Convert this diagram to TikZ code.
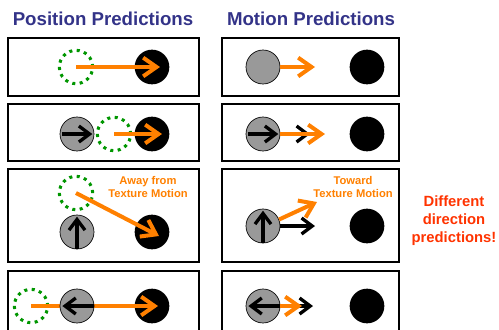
\documentclass[tikz,border=0pt]{standalone}
\usepackage{fontspec}
\setmainfont{Liberation Sans}
\usetikzlibrary{arrows.meta}
\definecolor{ttlblue}{RGB}{51,51,136}
\definecolor{predorange}{RGB}{255,128,0}
\definecolor{predgreen}{RGB}{0,150,0}
\definecolor{notered}{RGB}{255,51,0}
\begin{document}
\begin{tikzpicture}[x=0.75pt,y=-0.75pt,
  every node/.style={font=\bfseries},
  panel/.style={draw=black,line width=1.1pt},
  target/.style={circle,fill=black,inner sep=0pt,minimum size=26pt},
  object/.style={circle,draw=black,line width=0.5pt,fill=black!40,inner sep=0pt,minimum size=25.5pt},
  guess/.style={circle,draw=predgreen,line width=2.3pt,dash pattern=on 2.3pt off 3.3pt,inner sep=0pt,minimum size=25pt},
  oarrow/.style={draw=predorange,line width=3pt,-{Straight Barb[length=10pt,width=14pt]}},
  karrow/.style={draw=black,line width=2.5pt,-{Straight Barb[length=8pt,width=12pt]}},
  ttl/.style={text=ttlblue,font=\bfseries\fontsize{14}{16}\selectfont},
  note/.style={text=predorange,align=center,font=\bfseries\fontsize{8.4}{9.8}\selectfont}]

\clip (0,0) rectangle (499,329);

\node[ttl] (ttlpos) at (103,19) {Position Predictions};
\node[ttl] (ttlmot) at (311,19) {Motion Predictions};

\draw[panel] (8,38) rectangle (199,96);
\draw[panel] (8,104) rectangle (199,161);
\draw[panel] (8,169) rectangle (199,262);
\draw[panel] (8,271) rectangle (199,340);
\draw[panel] (222,38) rectangle (399,96);
\draw[panel] (222,104) rectangle (399,161);
\draw[panel] (222,169) rectangle (399,262);
\draw[panel] (222,271) rectangle (399,340);

\node[guess] (pl1) at (76,67) {};
\node[target] (tl1) at (152,67) {};
\coordinate (el1) at (160,67);
\draw[oarrow] (pl1.center) -- (el1);
\node[object] (gr1) at (263,67) {};
\node[target] (tr1) at (367,67) {};
\coordinate (er1) at (315,67);
\draw[oarrow] (gr1.east) -- (er1);

\node[object] (gl2) at (77,134) {};
\draw[karrow,shorten <=2pt,shorten >=1.5pt] (gl2.west) -- (gl2.east);
\node[guess] (pl2) at (114,134) {};
\node[target] (tl2) at (152,134) {};
\coordinate (el2) at (162,134);
\draw[oarrow] (pl2.center) -- (el2);
\node[object] (gr2) at (263,134) {};
\draw[karrow,shorten <=2pt,shorten >=1.5pt] (gr2.west) -- (gr2.east);
\node[target] (tr2) at (367,134) {};
\coordinate (kr2) at (310,134);
\draw[karrow] (gr2.east) -- (kr2);
\coordinate (er2) at (325,134);
\draw[oarrow] (gr2.east) -- (er2);

\node[guess] (pl3) at (76,193) {};
\node[object] (gl3) at (77,232) {};
\draw[karrow,shorten <=0.5pt,shorten >=1.5pt] (gl3.south) -- (gl3.north);
\node[target] (tl3) at (152,232) {};
\coordinate (el3) at (159,236);
\draw[oarrow] (pl3.center) -- (el3);
\node[note] (awy) at (148,187) {Away from\\Texture Motion};
\node[object] (gr3) at (263,226) {};
\draw[karrow,shorten <=0.5pt,shorten >=1.5pt] (gr3.south) -- (gr3.north);
\node[target] (tr3) at (367,226) {};
\coordinate (kr3) at (315,226);
\draw[karrow] (gr3.east) -- (kr3);
\coordinate (er3) at (317,202);
\draw[oarrow] (gr3.22) -- (er3);
\node[note] (tow) at (353,187) {Toward\\Texture Motion};

\node[text=notered,align=center,font=\bfseries\fontsize{11.1}{13.5}\selectfont] (diff) at (454,221) {Different\\direction\\predictions!};

\node[guess] (pl4) at (31,306) {};
\node[target] (tl4) at (152,306) {};
\coordinate (el4) at (158,306);
\draw[oarrow] (pl4.center) -- (el4);
\node[object] (gl4) at (77,306) {};
\draw[karrow,shorten <=0.5pt,shorten >=2pt] (gl4.east) -- (gl4.west);
\node[object] (gr4) at (263,306) {};
\draw[karrow,shorten <=0.5pt,shorten >=2pt] (gr4.east) -- (gr4.west);
\node[target] (tr4) at (367,306) {};
\coordinate (kr4) at (313,306);
\draw[karrow] (gr4.east) -- (kr4);
\coordinate (er4) at (302,306);
\draw[oarrow] (gr4.east) -- (er4);
\end{tikzpicture}
\end{document}
